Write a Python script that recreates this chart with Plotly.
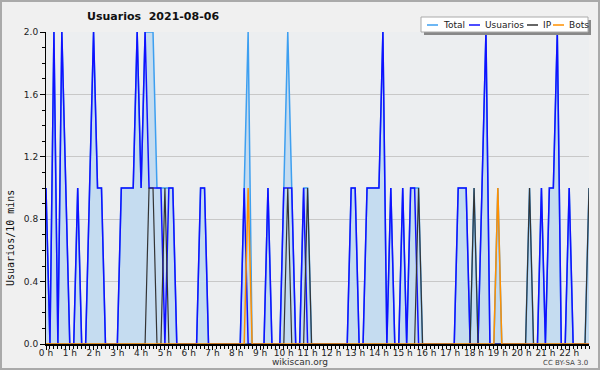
import plotly.graph_objects as go

# 10-minute slots, 2021-08-06, 00:00 .. 22:50
usuarios = [1,0,2,0,2,1,0,0,1,0,
            0,1,2,1,1,0,0,0,0,1,
            1,1,1,2,1,2,1,1,1,1,
            0,1,1,0,0,0,0,0,0,1,
            1,0,0,0,0,0,0,0,0,0,
            1,0,0,0,0,0,1,0,0,0,
            1,1,1,0,0,1,0,0,0,0,
            0,0,0,0,0,0,0,1,1,0,
            0,1,1,1,1,2,0,1,0,0,
            1,0,1,1,0,0,0,0,0,0,
            0,0,0,0,1,1,1,0,0,0,
            1,2,0,0,0,0,0,0,0,0,
            0,0,0,0,0,1,0,1,1,2,
            0,0,1,0,0,0,0,0]
ip = [0,0,0,0,0,0,0,0,0,0,
      0,0,0,0,0,0,0,0,0,0,
      0,0,0,0,0,0,1,1,0,0,
      1,0,0,0,0,0,0,0,0,0,
      0,0,0,0,0,0,0,0,0,0,
      0,0,0,0,0,0,0,0,0,0,
      0,1,0,0,0,0,1,0,0,0,
      0,0,0,0,0,0,0,0,0,0,
      0,0,0,0,0,0,0,0,0,0,
      0,0,0,0,1,0,0,0,0,0,
      0,0,0,0,0,0,0,0,1,0,
      0,0,0,0,0,0,0,0,0,0,
      0,0,1,0,0,0,0,0,0,0,
      0,0,0,0,0,0,0,1]
bots = [0,0,0,0,0,0,0,0,0,0,
        0,0,0,0,0,0,0,0,0,0,
        0,0,0,0,0,0,0,0,0,0,
        0,0,0,0,0,0,0,0,0,0,
        0,0,0,0,0,0,0,0,0,0,
        0,1,0,0,0,0,0,0,0,0,
        0,0,0,0,0,0,0,0,0,0,
        0,0,0,0,0,0,0,0,0,0,
        0,0,0,0,0,0,0,0,0,0,
        0,0,0,0,0,0,0,0,0,0,
        0,0,0,0,0,0,0,0,0,0,
        0,0,0,0,1,0,0,0,0,0,
        0,0,0,0,0,0,0,0,0,0,
        0,0,0,0,0,0,0,0]
total = [1,0,2,0,2,1,0,0,1,0,
         0,1,2,1,1,0,0,0,0,1,
         1,1,1,2,1,2,2,2,1,1,
         1,1,1,0,0,0,0,0,0,1,
         1,0,0,0,0,0,0,0,0,0,
         1,2,0,0,0,0,1,0,0,0,
         1,2,1,0,0,1,1,0,0,0,
         0,0,0,0,0,0,0,1,1,0,
         0,1,1,1,1,2,0,1,0,0,
         1,0,1,1,1,0,0,0,0,0,
         0,0,0,0,1,1,1,0,1,0,
         1,2,0,0,1,0,0,0,0,0,
         0,0,1,0,0,1,0,1,1,2,
         0,0,1,0,0,0,0,1]

minutes = [10 * k for k in range(len(total))]
hours = [m / 60 for m in minutes]
hour_ticks = list(range(23))
hour_labels = [f"{h} h" for h in hour_ticks]
y_ticks = [0.0, 0.4, 0.8, 1.2, 1.6, 2.0]

series_names = ["Total", "Usuarios", "IP", "Bots"]
series_colors = ["#3d9ff0", "#1010ff", "#333333", "#ff9000"]
series_data = [total, usuarios, ip, bots]
series_widths = [1.5, 1.5, 1.2, 1.5]

FONT = "DejaVu Sans"
fig = go.Figure()
for name, col, data, w in zip(series_names, series_colors, series_data, series_widths):
    kw = {}
    if name == "Total":
        kw = dict(fill="tozeroy", fillcolor="#c5dcf0")
    fig.add_trace(go.Scatter(x=hours, y=data, mode="lines", name=name,
                             line=dict(color=col, width=w), showlegend=False, **kw))

L, R, T, B = 46, 11, 32, 26
W, H = 600, 370
pw, ph = W - L - R, H - T - B
def px(x):
    return (x - L) / pw
def py(y):
    return (H - B - y) / ph

shapes = []
annotations = []
# outer border
shapes.append(dict(type="rect", xref="paper", yref="paper", x0=px(1), x1=px(599), y0=py(1), y1=py(369),
                   line=dict(color="#aaaaaa", width=2), layer="below"))
# legend box with shadow
shapes.append(dict(type="rect", xref="paper", yref="paper", x0=px(424), x1=px(591), y0=py(20), y1=py(35),
                   fillcolor="#888888", line=dict(width=0), layer="above"))
shapes.append(dict(type="rect", xref="paper", yref="paper", x0=px(421), x1=px(588), y0=py(17), y1=py(32),
                   fillcolor="white", line=dict(color="#aaaaaa", width=1), layer="above"))
item_x = [427, 469, 527, 553]
for name, col, x0 in zip(series_names, series_colors, item_x):
    shapes.append(dict(type="line", xref="paper", yref="paper", x0=px(x0), x1=px(x0 + 11),
                       y0=py(25), y1=py(25), line=dict(color=col, width=1.5), layer="above"))
    annotations.append(dict(text=name, xref="paper", yref="paper", x=px(x0 + 14), y=py(25),
                            xanchor="left", yanchor="middle", showarrow=False,
                            font=dict(family=FONT, size=9, color="#222")))

annotations.append(dict(text="<b>Usuarios  2021-08-06</b>", xref="paper", yref="paper",
                        x=px(85), y=py(17), xanchor="left", yanchor="middle", showarrow=False,
                        font=dict(family=FONT, size=11, color="#111")))
annotations.append(dict(text="Usuarios/10 mins", xref="paper", yref="paper", x=px(10), y=py(238),
                        xanchor="center", yanchor="middle", textangle=-90, showarrow=False,
                        font=dict(family="DejaVu Sans Mono", size=10, color="#111")))
annotations.append(dict(text="wikiscan.org", xref="paper", yref="paper", x=px(300), y=py(362),
                        xanchor="center", yanchor="middle", showarrow=False,
                        font=dict(family=FONT, size=9, color="#333")))
annotations.append(dict(text="CC BY-SA 3.0", xref="paper", yref="paper", x=px(590), y=py(363),
                        xanchor="right", yanchor="middle", showarrow=False,
                        font=dict(family=FONT, size=7, color="#444")))

fig.update_layout(
    width=W, height=H,
    margin=dict(l=L, r=R, t=T, b=B, pad=0, autoexpand=False),
    paper_bgcolor="#f0f0f0", plot_bgcolor="#eceef0",
    shapes=shapes, annotations=annotations,
    font=dict(family=FONT, size=9, color="#222"),
)
fig.update_xaxes(range=[0, hours[-1]], tickvals=hour_ticks, ticktext=hour_labels, automargin=False,
                 showgrid=False, zeroline=False, showline=True, linecolor="black", linewidth=1.5,
                 ticks="outside", ticklen=4, tickcolor="black", tickwidth=1, layer="above traces",
                 ticklabelstandoff=-5,
                 tickfont=dict(family=FONT, size=9, color="#222"),
                 minor=dict(dtick=1/6, tick0=0, ticks="outside", ticklen=3, tickcolor="black", showgrid=False))
fig.update_yaxes(range=[0, 2.0], tickvals=y_ticks, tickformat=".1f", automargin=False,
                 showgrid=True, gridcolor="#c8c8c8", gridwidth=1, zeroline=False,
                 showline=True, linecolor="black", linewidth=1, layer="above traces",
                 ticks="outside", ticklen=5, tickcolor="black",
                 tickfont=dict(family=FONT, size=9, color="#222"),
                 minor=dict(dtick=0.1, ticks="outside", ticklen=3, tickcolor="black", showgrid=False))

fig.write_html("out.html", config={"displayModeBar": False},
               post_script="document.body.style.margin='0';document.body.style.overflow='hidden';")
